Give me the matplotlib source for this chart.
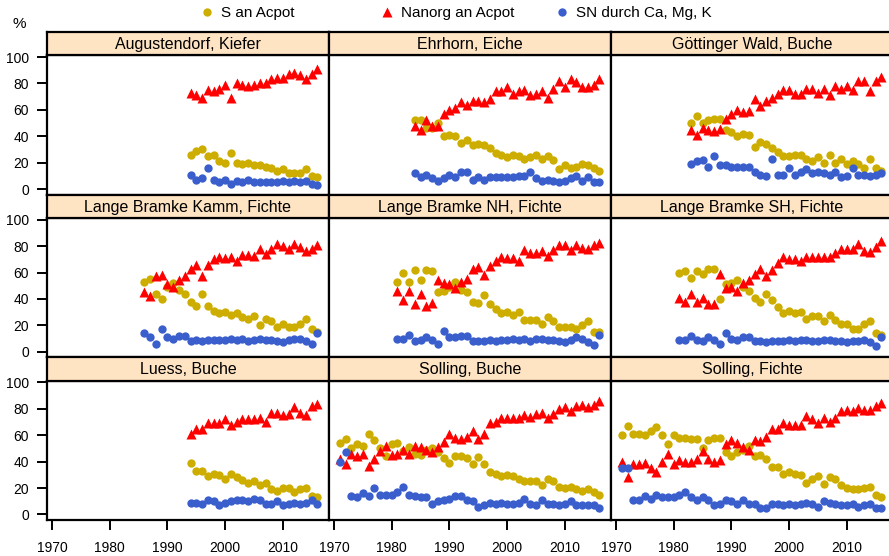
import matplotlib
matplotlib.use("Agg")
import matplotlib.pyplot as plt
from matplotlib.lines import Line2D
import numpy as np

plt.rcParams['font.family'] = ['Liberation Sans', 'DejaVu Sans']

# Farben
c_s = "#CDAD00"
c_n = "#FF0000"
c_sn = "#3A5FCD"
c_strip = "#FFE4C4"

# Augustendorf, Kiefer (1994-2016)
aug_start = 1994
aug_s = [26, 29, 30, 25, 26, 21, 20, 27, 20, 19, 20, 18, 18, 17, 16, 14, 15, 12, 12, 12, 15, 10, 9]
aug_n = [73, 71, 69, 75, 74, 76, 79, 69, 80, 79, 78, 79, 80, 80, 83, 84, 84, 87, 88, 86, 83, 87, 91]
aug_sn = [11, 7, 8, 16, 7, 5, 7, 4, 6, 5, 7, 5, 5, 5, 5, 5, 6, 5, 6, 5, 6, 4, 3]

# Ehrhorn, Eiche (1984-2016)
ehr_start = 1984
ehr_s = [52, 52, 46, 46, 50, 40, 41, 40, 35, 37, 33, 34, 33, 31, 27, 26, 24, 26, 25, 23, 24, 26,
         23, 25, 22, 15, 18, 16, 17, 19, 18, 16, 14]
ehr_n = [48, 45, 52, 48, 48, 57, 60, 61, 66, 64, 67, 67, 66, 68, 74, 74, 77, 72, 74, 75, 71, 72,
         74, 69, 76, 82, 77, 83, 81, 77, 77, 79, 83]
ehr_sn = [12, 9, 11, 8, 6, 8, 11, 9, 13, 13, 7, 9, 7, 9, 9, 9, 9, 9, 10, 10, 13, 8, 6, 7, 6, 5,
          6, 8, 10, 6, 9, 5, 5]

# Göttinger Wald, Buche (1983-2016)
goe_start = 1983
goe_s = [50, 55, 50, 52, 53, 53, 45, 43, 40, 42, 41, 32, 36, 34, 31, 28, 25, 25, 26, 26, 23, 21,
         24, 20, 26, 20, 23, 19, 21, 19, 16, 23, 16, 14]
goe_n = [45, 41, 46, 45, 44, 45.5, 53, 57, 60, 58.5, 59, 68, 63, 67, 69, 72, 75, 75, 72, 72, 76,
         76, 73, 76, 71, 78, 76, 78, 75, 82, 82, 74, 82, 85]
goe_sn = [19, 21, 22, 17, 25, 18, 18, 17, 17, 17, 17, 13, 11, 10, 23, 11, 11, 16, 11, 13, 15, 12,
          13, 12, 11, 13, 9, 10, 16, 11, 11, 10, 11, 12]

# Lange Bramke Kamm, Fichte (1986-2016)
lbk_start = 1986
lbk_s = [53, 55, 44, 40, 49, 52, 47, 44, 38, 35, 44, 35, 31, 29, 30, 28, 29, 26, 25, 27, 20, 25,
         23, 19, 21, 19, 19, 21, 25, 17, 15]
lbk_n = [45, 42, 57, 58, 51, 49, 54, 57, 63, 66, 57, 66, 70, 72, 71, 72, 69, 73, 73, 72.5, 78,
         74, 78, 81.5, 80, 78, 81.5, 79, 76, 78, 81]
lbk_sn = [14, 11, 6, 17, 11, 10, 12, 12, 8, 9, 8, 9, 9, 9, 9, 10, 9, 10, 8, 9, 10, 9, 9, 8, 7, 9,
          10, 10, 8, 6, 14]

# Lange Bramke NH, Fichte (1981-2016)
lbn_start = 1981
lbn_s = [53, 60, 53, 62, 54, 62, 61, 45, 46, 49, 53, 47, 45, 38, 37, 43, 36, 32, 29, 30, 28, 30,
         24, 24, 24, 21, 26, 23, 19, 19, 19, 17, 20, 23, 15, 15]
lbn_n = [46, 39, 46, 36, 44, 35, 37, 54, 52, 51, 48, 53, 55, 63, 64, 58, 65, 69, 72, 71, 71, 69,
         77, 75, 75, 76, 72.5, 77, 80.5, 80.5, 77, 80.5, 78.5, 78, 80.5, 82.5]
lbn_sn = [10, 10, 13, 8, 9, 11, 9, 6, 16, 11, 11, 12, 12, 8, 8, 8, 9, 8, 9, 9, 10, 9, 10, 8, 10,
          10, 9, 9, 8, 7, 9, 11, 10, 7, 5, 13]

# Lange Bramke SH, Fichte (1981-2016)
lbs_start = 1981
lbs_s = [60, 61.5, 56, 61.5, 58.5, 63, 63, 40, 51, 52, 54, 49, 46, 41, 38, 44, 39, 34, 29, 31,
         29, 30, 25, 27, 27, 23, 28, 24, 21, 21, 17, 17, 21, 23, 14, 13]
lbs_n = [41, 38, 44, 38, 41, 36, 36, 59, 48, 49, 46, 52, 54, 59, 63, 57, 62, 67, 71.5, 70, 70.5,
         68.5, 71.5, 71.5, 71.5, 71.5, 71.5, 74.5, 77.5, 78, 78, 81.5, 76.5, 75.5, 79.5, 83.5]
lbs_sn = [9, 9, 12, 9, 8, 11, 9, 6, 14, 10, 9, 11, 11, 8, 8, 7, 8, 8, 8, 9, 8, 9, 9, 8, 8, 9, 9,
          8, 8, 7, 8, 8, 9, 7, 4, 11]

# Luess, Buche (1994-2016)
lue_start = 1994
lue_s = [39, 33, 33, 29, 31, 30, 27, 31, 28, 26, 24, 25, 22, 24, 19, 18, 20, 20, 17, 19, 20, 14, 13]
lue_n = [61, 65, 65, 69, 69, 69, 72, 67.5, 70, 72, 72, 72, 73, 70, 77, 77, 75, 76, 81, 77, 75, 82, 84]
lue_sn = [9, 9, 8, 11, 10, 7, 9, 10, 11, 11, 10, 12, 11, 8, 8, 10, 7, 8, 9, 8, 9, 11, 8]

# Solling, Buche (1971-2016)
slb_start = 1971
slb_s = [54, 57, 50, 53, 52, 61, 56, 50, 44, 53, 54, 48, 51, 46, 45, 49, 50, 47, 43, 39, 44,
         44.5, 42.5, 38.5, 43.5, 38.5, 32, 31, 29, 30, 29, 27, 25, 25, 25, 22, 27, 25, 21, 20,
         21, 19, 18, 19, 17, 15]
slb_n = [42, 38, 46, 44, 46, 37, 42, 48, 52, 45, 46, 49, 46, 52, 51, 49, 47, 51, 55, 61, 58, 57,
         59, 63, 57, 61, 69, 70, 73, 73, 73, 73, 75, 74, 76, 77, 73, 76, 80, 81, 78, 82, 83, 81,
         83, 86]
slb_sn = [39.5, 47, 14, 13, 16.5, 14, 20, 15, 15, 15, 17, 21, 15, 14, 13, 13, 8, 10, 11, 12, 14,
          14, 11, 10, 6, 7, 9, 8, 9, 8, 8, 9, 12, 8, 7, 11, 8, 8, 7, 8, 10, 7, 7, 7, 7, 5]

# Solling, Fichte (1971-2016)
slf_start = 1971
slf_s = [60, 67, 61, 61, 60, 63, 66, 60, 53, 60, 58, 58, 57, 57, 50, 56, 58, 58, 47, 44, 47, 49,
         52, 44, 45, 42, 36, 36, 31, 32, 31, 30, 24, 27, 29, 23, 28, 27, 22, 20, 19, 19, 20, 21,
         15, 13]
slf_n = [40, 28, 38, 38, 39, 35, 32, 40, 46, 38, 41, 40, 40, 42, 48, 42, 40, 41, 53, 56, 54, 51,
         49, 56, 55.5, 59, 65, 65, 69, 68, 68, 68, 74.5, 72, 69, 73, 70, 73, 78, 79, 78, 80.5,
         79, 79, 82.5, 84.5]
slf_sn = [35, 35, 11, 11, 14, 12, 15, 13, 13, 13, 15, 17, 13, 11, 13, 11, 7, 8, 11, 10, 8, 11,
          8, 8, 5, 5, 8, 8, 7, 8, 7, 8, 9, 8, 6, 10, 9, 8, 7, 7, 8, 6, 7, 8, 5, 5]

titles = ["Augustendorf, Kiefer", "Ehrhorn, Eiche", "Göttinger Wald, Buche",
          "Lange Bramke Kamm, Fichte", "Lange Bramke NH, Fichte", "Lange Bramke SH, Fichte",
          "Luess, Buche", "Solling, Buche", "Solling, Fichte"]
panels = [(aug_start, aug_s, aug_n, aug_sn), (ehr_start, ehr_s, ehr_n, ehr_sn),
          (goe_start, goe_s, goe_n, goe_sn), (lbk_start, lbk_s, lbk_n, lbk_sn),
          (lbn_start, lbn_s, lbn_n, lbn_sn), (lbs_start, lbs_s, lbs_n, lbs_sn),
          (lue_start, lue_s, lue_n, lue_sn), (slb_start, slb_s, slb_n, slb_sn),
          (slf_start, slf_s, slf_n, slf_sn)]

W, H = 889, 556
fig = plt.figure(figsize=(W / 100, H / 100), dpi=100)

# Layout in Pixeln
col_left = [47, 329, 611]
pw = 282
row_top = [32, 194.7, 357.4]
sh = 23.3
dh = 139.4
ms_o = 6.0
ms_t = 7.6

for i, (t, (start, s, n, sn)) in enumerate(zip(titles, panels)):
    r, c = divmod(i, 3)
    x0 = col_left[c]
    yt = row_top[r]
    ax = fig.add_axes([x0 / W, 1 - (yt + sh + dh) / H, pw / W, dh / H])
    st = fig.add_axes([x0 / W, 1 - (yt + sh) / H, pw / W, sh / H])

    years = np.arange(start, start + len(s))
    ax.plot(years, s, "o", color=c_s, ms=ms_o, mec="none")
    ax.plot(years, n, "^", color=c_n, ms=ms_t, mec="none")
    ax.plot(years, sn, "o", color=c_sn, ms=ms_o, mec="none")

    ax.set_xlim(1969.13, 2018.0)
    ax.set_ylim(-4.3, 101.3)
    ax.set_xticks([1970, 1980, 1990, 2000, 2010])
    ax.set_yticks([0, 20, 40, 60, 80, 100])
    ax.tick_params(direction="out", length=7.5, width=1.4, labelsize=10, colors="black")
    ax.tick_params(axis="x", pad=7.5)
    ax.tick_params(axis="y", pad=5.5)
    if c != 0:
        ax.tick_params(axis="y", left=False, labelleft=False)
    if r != 2:
        ax.tick_params(axis="x", bottom=False, labelbottom=False)
    for sp in ax.spines.values():
        sp.set_linewidth(1.6)

    st.set_facecolor(c_strip)
    st.set_xticks([])
    st.set_yticks([])
    for sp in st.spines.values():
        sp.set_linewidth(1.6)
    st.text(0.5, 0.47, t, ha="center", va="center", fontsize=11.5, transform=st.transAxes)

fig.text(19 / W, 1 - 24 / H, "%", ha="center", va="center", fontsize=11)

# Legende oben, drei gleich breite Eintraege
leg_labels = ["S an Acpot", "Nanorg an Acpot", "SN durch Ca, Mg, K"]
leg_handles = [Line2D([], [], ls="none", marker="o", color=c_s, ms=ms_o, mec="none"),
               Line2D([], [], ls="none", marker="^", color=c_n, ms=ms_t, mec="none"),
               Line2D([], [], ls="none", marker="o", color=c_sn, ms=ms_o, mec="none")]
leg_x = [198, 378, 553]
for h, lab, lx in zip(leg_handles, leg_labels, leg_x):
    fig.legend([h], [lab], loc="center left", bbox_to_anchor=(lx / W, 1 - 13 / H),
               frameon=False, fontsize=11, handletextpad=0.3, handlelength=1.2,
               borderpad=0, borderaxespad=0)

fig.savefig("out.png", dpi=100)
